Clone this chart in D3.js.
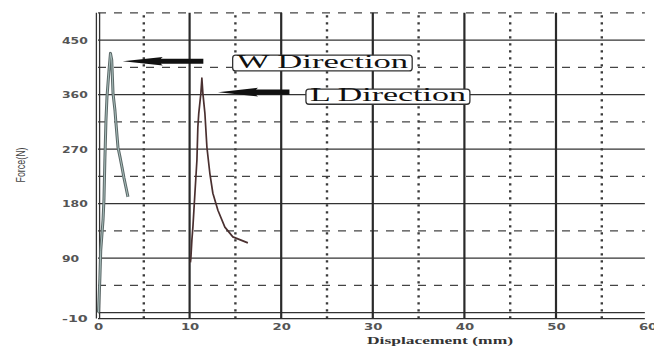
<!DOCTYPE html>
<html>
<head>
<meta charset="utf-8">
<script src="https://cdn.jsdelivr.net/npm/d3@7"></script>
<style>
  html, body { margin: 0; padding: 0; background: #fff; }
  svg { display: block; }
</style>
</head>
<body>
<svg id="chart" width="654" height="346"></svg>
<script>
// Tick labels
const xTickValues = [0, 10, 20, 30, 40, 50, 60];
const yTickValues = [450, 360, 270, 180, 90, -10];

// Grid levels (force, N) and displacement (mm)
const forceSolid = [0, 90, 180, 270, 360, 450];
const forceDashed = [45, 135, 225, 315, 405, 495];
const dispSolid = [10, 20, 30, 40, 50];
const dispDotted = [5, 15, 25, 35, 45, 55];

// W direction test: displacement (mm) and force (N)
const wDisp  = [0.05, 0.2, 0.3, 0.55, 0.65, 0.75, 0.87, 0.98, 1.2, 1.36, 1.5, 1.64, 1.85, 1.96, 2.18, 2.4, 2.62, 2.84, 3.05, 3.27];
const wForce = [0, 54, 103, 153, 186, 252, 318, 356, 400, 428, 417, 362, 334, 313, 273, 257, 240, 222, 207, 191];

// L direction test: displacement (mm) and force (N)
const lDisp  = [10.09, 10.14, 10.25, 10.36, 10.58, 10.8, 10.9, 11.0, 11.23, 11.34, 11.45, 11.67, 11.89, 12.21, 12.54, 13.09, 13.85, 14.72, 16.36];
const lForce = [83, 90, 120, 141, 197, 252, 306, 329, 362, 387, 362, 329, 273, 230, 197, 169, 141, 125, 115];

const svg = d3.select("#chart");

const x = d3.scaleLinear().domain([0, 60]).range([98, 647.6]);
const y = d3.scaleLinear().domain([-10, 495]).range([318.6, 12.8]);

const xGridEnd = 59.7;
const g = svg.append("g");

// horizontal grid
g.selectAll("line.hs").data(forceSolid).join("line")
  .attr("x1", x(0)).attr("x2", x(xGridEnd))
  .attr("y1", d => y(d)).attr("y2", d => y(d))
  .attr("stroke", "#333").attr("stroke-width", 1.3);
g.selectAll("line.hd").data(forceDashed).join("line")
  .attr("x1", x(0)).attr("x2", x(xGridEnd))
  .attr("y1", d => y(d)).attr("y2", d => y(d))
  .attr("stroke", "#444").attr("stroke-width", 1.2)
  .attr("stroke-dasharray", "8,8");

// vertical grid
g.selectAll("line.vs").data(dispSolid).join("line")
  .attr("x1", d => x(d)).attr("x2", d => x(d))
  .attr("y1", y(-10)).attr("y2", y(495))
  .attr("stroke", "#2a2a2a").attr("stroke-width", 2.2);
g.selectAll("line.vd").data(dispDotted).join("line")
  .attr("x1", d => x(d)).attr("x2", d => x(d))
  .attr("y1", y(-10)).attr("y2", y(495))
  .attr("stroke", "#3a3a3a").attr("stroke-width", 2.4)
  .attr("stroke-dasharray", "2.4,4.6");

// frame: bottom axis and double left axis
g.append("line").attr("x1", x(0)).attr("x2", x(xGridEnd))
  .attr("y1", y(-10)).attr("y2", y(-10))
  .attr("stroke", "#2e2e2e").attr("stroke-width", 1.4);
[-1.6, 1.6].forEach(off => {
  g.append("line").attr("x1", x(0) + off).attr("x2", x(0) + off)
    .attr("y1", y(-10)).attr("y2", y(495))
    .attr("stroke", "#333").attr("stroke-width", 1.3);
});

// axes (labels only)
const yAxis = d3.axisLeft(y).tickValues(yTickValues).tickSize(0).tickFormat(d => String(d));
const yAx = svg.append("g").attr("transform", `translate(${x(0)},0)`).call(yAxis);
yAx.select(".domain").remove();
yAx.selectAll("text")
  .attr("x", -36).attr("text-anchor", "start")
  .attr("font-family", "DejaVu Sans").attr("font-weight", "bold").attr("font-size", 9.5)
  .attr("fill", "#555")
  .attr("textLength", d => String(d).length * 8.6)
  .attr("lengthAdjust", "spacingAndGlyphs");

const xAxis = d3.axisBottom(x).tickValues(xTickValues).tickSize(0).tickPadding(5).tickFormat(d => String(d));
const xAx = svg.append("g").attr("transform", `translate(0,${y(-10)})`).call(xAxis);
xAx.select(".domain").remove();
xAx.selectAll("text")
  .attr("font-family", "DejaVu Sans").attr("font-weight", "bold").attr("font-size", 9.5)
  .attr("fill", "#555")
  .attr("textLength", d => String(d).length * 9.2)
  .attr("lengthAdjust", "spacingAndGlyphs");

// axis titles
svg.append("text")
  .attr("transform", "translate(25,165) rotate(-90)")
  .attr("text-anchor", "middle")
  .attr("font-family", "Liberation Sans").attr("font-size", 12.5)
  .attr("fill", "#444")
  .attr("textLength", 35).attr("lengthAdjust", "spacingAndGlyphs")
  .text("Force(N)");
svg.append("text")
  .attr("x", 440).attr("y", 344)
  .attr("text-anchor", "middle")
  .attr("font-family", "Liberation Serif").attr("font-weight", "bold").attr("font-size", 11)
  .attr("fill", "#333")
  .attr("textLength", 146).attr("lengthAdjust", "spacingAndGlyphs")
  .text("Displacement (mm)");

// curves
const line = d3.line().x(d => x(d[0])).y(d => y(d[1]));
const wPts = wDisp.map((d, i) => [d, wForce[i]]);
const lPts = lDisp.map((d, i) => [d, lForce[i]]);

svg.append("path").datum(wPts).attr("d", line)
  .attr("fill", "none").attr("stroke", "#5b6868").attr("stroke-width", 3)
  .attr("stroke-linejoin", "round");
svg.append("path").datum(wPts).attr("d", line)
  .attr("fill", "none").attr("stroke", "#a8bebb").attr("stroke-width", 1)
  .attr("stroke-linejoin", "round");

svg.append("path").datum(lPts).attr("d", line)
  .attr("fill", "none").attr("stroke", "#4a3030").attr("stroke-width", 1.7)
  .attr("stroke-linejoin", "round");

// annotations: arrow tip/tail and label box, in data units
const notes = [
  { text: "W Direction", tip: [2.7, 415], tail: 11.5, box: [14.7, 34.3, 425, 399] },
  { text: "L Direction", tip: [13.1, 364], tail: 20.9, box: [22.7, 40.6, 369, 344] }
];

function arrowPath(tx, ty, endX) {
  const hl = 40, hw = 4.3, sw = 2.6;
  return `M${tx},${ty} L${tx + hl},${ty - hw} L${tx + hl - 2},${ty - sw} L${endX},${ty - sw}` +
         ` L${endX},${ty + sw} L${tx + hl - 2},${ty + sw} L${tx + hl},${ty + hw} Z`;
}

notes.forEach(n => {
  svg.append("path")
    .attr("d", arrowPath(x(n.tip[0]), y(n.tip[1]), x(n.tail)))
    .attr("fill", "#111");
  const bx0 = x(n.box[0]), bx1 = x(n.box[1]), by0 = y(n.box[2]), by1 = y(n.box[3]);
  svg.append("rect")
    .attr("x", bx0).attr("y", by0).attr("width", bx1 - bx0).attr("height", by1 - by0)
    .attr("rx", 3).attr("fill", "#fff").attr("stroke", "#333").attr("stroke-width", 1.3);
  svg.append("text")
    .attr("x", bx0 + 4).attr("y", by1 - 3)
    .attr("font-family", "Liberation Serif").attr("font-size", 18)
    .attr("fill", "#111")
    .attr("textLength", bx1 - bx0 - 8).attr("lengthAdjust", "spacingAndGlyphs")
    .text(n.text);
});
</script>
</body>
</html>
